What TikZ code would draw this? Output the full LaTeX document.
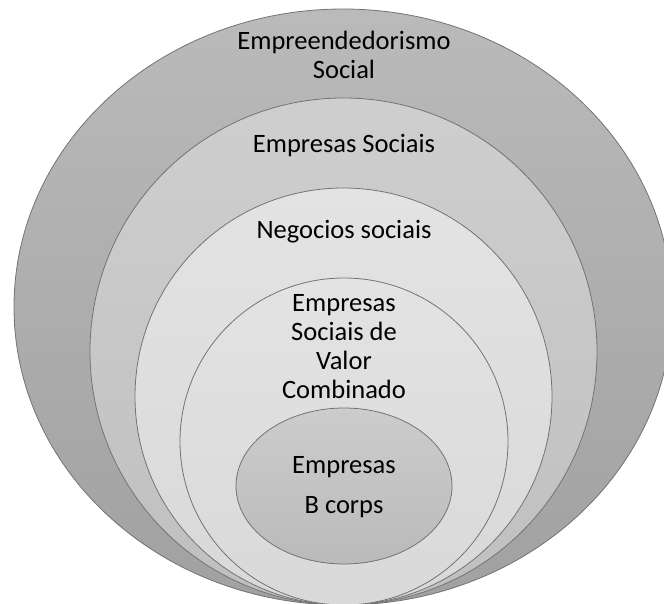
\documentclass[tikz,border=0pt]{standalone}
\usepackage{fontspec}
\setmainfont{Carlito}
\usetikzlibrary{shapes.geometric}

\begin{document}
\begin{tikzpicture}[x=1pt, y=-1pt, ring/.style={ellipse, draw=black!55, line width=0.8pt, inner sep=0pt}, txt/.style={align=center, anchor=base, inner sep=0pt, font=\fontsize{26.5}{28.7}\selectfont}]
	\useasboundingbox (0,0) rectangle (664,603);
	% nested rings, all touching at the bottom
	\node [ring, top color=black!27, bottom color=black!37, minimum width=658pt, minimum height=596pt] (social) at (343,307) {};
	\node [ring, top color=black!19, bottom color=black!25, minimum width=507pt, minimum height=507pt] (sociais) at (343.5,351.5) {};
	\node [ring, top color=black!11, bottom color=black!15, minimum width=417pt, minimum height=417pt] (negocios) at (343.5,396.5) {};
	\node [ring, top color=black!11, bottom color=black!15, minimum width=328pt, minimum height=327pt] (combinado) at (344,441.5) {};
	\node [ring, top color=black!20, bottom color=black!27, minimum width=216pt, minimum height=156pt] (bcorps) at (344,486) {};

	% text of each ring (base = last line)
	\node [txt] (t_social) at (344,78) {Empreendedorismo\\Social};
	\node [txt] (t_sociais) at (344,152) {Empresas Sociais};
	\node [txt] (t_negocios) at (344,238) {Negocios sociais};
	\node [txt] (t_combinado) at (344,398) {Empresas\\Sociais de\\Valor\\Combinado};
	\node [txt, font=\fontsize{26.5}{40}\selectfont] (t_bcorps) at (344,513) {Empresas\\B corps};
\end{tikzpicture}
\end{document}
